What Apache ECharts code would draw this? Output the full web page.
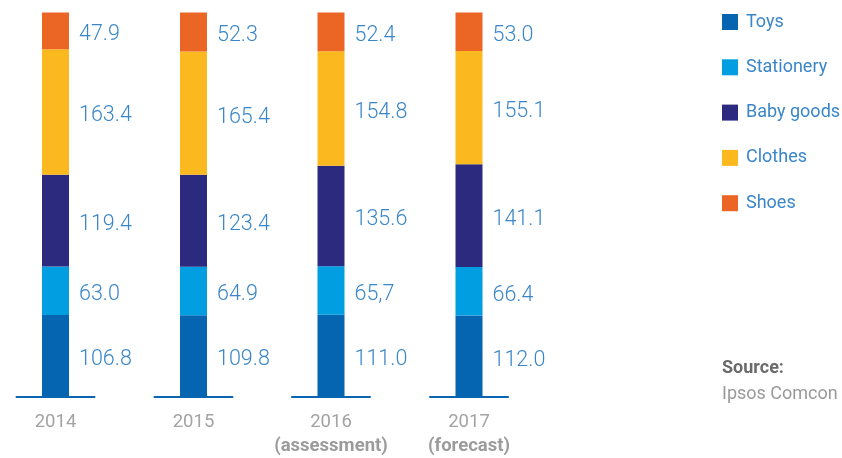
<!DOCTYPE html>
<html>
<head>
<meta charset="utf-8">
<script src="https://cdn.jsdelivr.net/npm/echarts@6/dist/echarts.min.js"></script>
<style>
  html, body { margin: 0; padding: 0; background: #fff; }
  #chart { width: 842px; height: 458px; }
</style>
</head>
<body>
<div id="chart"></div>
<script>
  // data
  const years = ['2014', '2015', '2016', '2017']
  const yearNotes = ['', '', '(assessment)', '(forecast)']
  const toys = [106.8, 109.8, 111.0, 112.0]
  const stationery = [63.0, 64.9, 65.7, 66.4]
  const babyGoods = [119.4, 123.4, 135.6, 141.1]
  const clothes = [163.4, 165.4, 154.8, 155.1]
  const shoes = [47.9, 52.3, 52.4, 53.0]
  // the 2016 stationery figure is printed with a comma in the source
  const labelOverrides = { 'Stationery|2016': '65,7' }

  const categories = [
    { name: 'Toys', values: toys, color: '#0565b0' },
    { name: 'Stationery', values: stationery, color: '#019fe1' },
    { name: 'Baby goods', values: babyGoods, color: '#2b2a7f' },
    { name: 'Clothes', values: clothes, color: '#fbb91f' },
    { name: 'Shoes', values: shoes, color: '#eb6624' }
  ]

  const chart = echarts.init(document.getElementById('chart'))

  // one small grid per year, each bar scaled to its own total
  const gridLefts = [16.5, 154.5, 292, 430]
  const grid = gridLefts.map(left => ({ left, width: 78, top: 12.5, bottom: 61 }))

  const xAxis = years.map((y, i) => ({
    type: 'category',
    gridIndex: i,
    data: [y],
    axisLine: { lineStyle: { color: '#0a66b2', width: 2 } },
    axisTick: { show: false },
    axisLabel: {
      margin: 13,
      formatter: v => yearNotes[i] ? '{y|' + v + '}\n{n|' + yearNotes[i] + '}' : '{y|' + v + '}',
      rich: {
        y: { fontFamily: 'Roboto', fontSize: 18.5, color: '#a3a3a3', lineHeight: 24 },
        n: { fontFamily: 'Roboto', fontSize: 18.5, fontWeight: 'bold', color: '#9b9b9b', lineHeight: 24 }
      }
    }
  }))

  const yAxis = years.map((y, i) => ({
    type: 'value',
    gridIndex: i,
    min: 0,
    max: categories.reduce((sum, c) => sum + c.values[i], 0),
    show: false
  }))

  const series = []
  years.forEach((y, i) => {
    categories.forEach(c => {
      series.push({
        type: 'bar',
        name: c.name,
        stack: 'y' + i,
        xAxisIndex: i,
        yAxisIndex: i,
        barWidth: 27,
        data: [c.values[i]],
        itemStyle: { color: c.color },
        label: {
          show: true,
          position: 'right',
          distance: 10,
          offset: [0, 4],
          fontFamily: 'Roboto',
          fontWeight: 300,
          fontSize: 21.5,
          color: '#3a86c8',
          formatter: p => labelOverrides[c.name + '|' + y] || p.value.toFixed(1)
        }
      })
    })
  })

  const option = {
    animation: false,
    grid,
    xAxis,
    yAxis,
    legend: {
      orient: 'vertical',
      left: 722,
      top: 13,
      padding: 0,
      icon: 'rect',
      itemWidth: 16,
      itemHeight: 16,
      itemGap: 27.3,
      data: categories.map(c => c.name),
      textStyle: {
        fontFamily: 'Roboto',
        fontSize: 18,
        color: '#3a86c8',
        padding: [0, 0, 0, 3]
      }
    },
    graphic: [
      {
        type: 'text',
        left: 722,
        top: 359,
        style: { text: 'Source:', font: 'bold 18px Roboto', fill: '#6a6a6a' }
      },
      {
        type: 'text',
        left: 722,
        top: 385,
        style: { text: 'Ipsos Comcon', font: '18px Roboto', fill: '#9a9a9a' }
      }
    ],
    series
  }

  chart.setOption(option)
</script>
</body>
</html>
